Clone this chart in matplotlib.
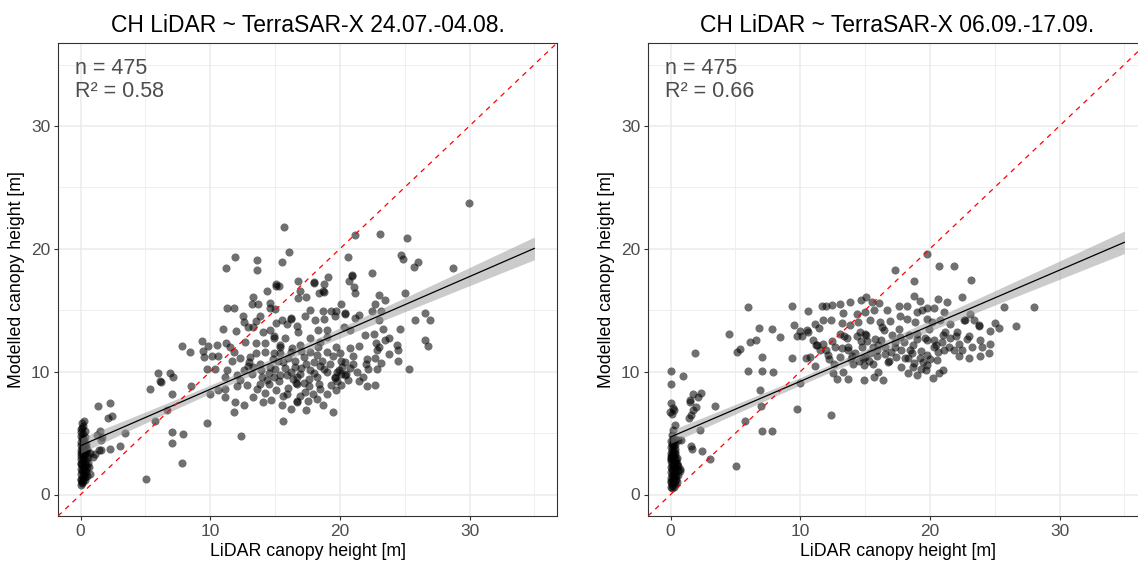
import numpy as np
import matplotlib
matplotlib.use("Agg")
import matplotlib.pyplot as plt

plt.rcParams['font.family'] = ['Liberation Sans', 'DejaVu Sans']

# ---------------- data (LiDAR height, modelled height) ----------------
titles = ["CH LiDAR ~ TerraSAR-X 24.07.-04.08.", "CH LiDAR ~ TerraSAR-X 06.09.-17.09."]
n_labels = ["n = 475", "n = 475"]
r2_labels = ["R\u00b2 = 0.58", "R\u00b2 = 0.66"]
x_label = "LiDAR canopy height [m]"
y_label = "Modelled canopy height [m]"
tick_values = [0, 10, 20, 30]

left_cluster = [
    (0.0, 0.8), (0.1, 1.0), (0.2, 1.1), (0.05, 1.3), (0.3, 1.4), (0.15, 1.5), (0.0, 1.7), (0.25, 1.75),
    (0.4, 1.8), (0.7, 1.7), (0.1, 1.9), (0.3, 2.0), (0.0, 2.1), (0.2, 2.2), (0.45, 2.25), (0.1, 2.4),
    (0.3, 2.5), (0.0, 2.6), (0.2, 2.7), (0.4, 2.8), (0.05, 2.9), (0.25, 3.0), (0.6, 3.05), (0.0, 3.15),
    (0.15, 3.2), (0.35, 3.3), (0.1, 3.4), (0.3, 3.5), (0.0, 3.6), (0.2, 3.65), (0.45, 3.7), (0.1, 3.8),
    (0.3, 3.9), (0.0, 4.0), (0.2, 4.1), (0.4, 4.15), (0.05, 4.3), (0.25, 4.4), (0.1, 4.6), (0.3, 4.7),
    (0.0, 4.8), (0.2, 4.9), (0.05, 5.1), (0.3, 5.2), (0.1, 5.4), (0.2, 5.6), (0.1, 5.8), (0.25, 5.95),
    (0.0, 1.2), (0.35, 1.2), (0.15, 2.0), (0.05, 2.45), (0.35, 2.35), (0.15, 3.0), (0.25, 3.6),
    (0.05, 3.35), (0.5, 3.45), (0.15, 4.5), (0.35, 4.0), (0.0, 5.3), (0.55, 2.6), (0.65, 2.2),
    (0.5, 1.5), (0.2, 1.35), (0.1, 0.95),
]
left_sparse = [
    (1.31, 7.2), (2.28, 7.41), (2.44, 6.38), (2.13, 6.19), (1.49, 5.18), (1.28, 4.83), (1.64, 4.7),
    (1.54, 4.42), (3.41, 5.02), (3.03, 3.94), (2.26, 3.69), (1.56, 3.64), (1.41, 3.66), (1.07, 3.28),
    (0.72, 3.34), (0.97, 3.07), (5.73, 6.0), (6.63, 6.87), (7.01, 5.1), (7.06, 4.23), (7.91, 4.91),
    (7.84, 2.6), (5.03, 1.25), (9.71, 5.78), (5.34, 8.6), (6.16, 9.17), (7.06, 8.14), (8.55, 8.85),
    (7.83, 12.1), (8.4, 11.6), (9.35, 12.5), (9.8, 12.1), (9.4, 11.7), (9.5, 11.2), (6.0, 9.9),
    (6.86, 9.9), (6.1, 9.2), (7.1, 9.6), (9.76, 10.2),
]
left_cloud = [
    (15.7, 21.8), (23.1, 21.2), (21.2, 21.1), (25.2, 20.9), (16.1, 19.7), (11.9, 19.3), (24.7, 19.5),
    (24.9, 19.2), (13.6, 19.1), (15.5, 18.9), (20.6, 19.3), (26.0, 18.9), (11.2, 18.4), (13.6, 18.3),
    (25.7, 18.5), (22.5, 18.0), (20.9, 17.9), (20.7, 17.4), (16.8, 17.4), (18.0, 17.3), (19.1, 17.7),
    (18.8, 17.1), (15.1, 17.0), (15.3, 17.0), (21.1, 16.85), (16.9, 16.6), (14.4, 16.6), (18.4, 16.4),
    (18.7, 16.6), (21.2, 16.4), (25.0, 16.4), (13.3, 16.1), (16.8, 16.0), (17.4, 16.1), (23.0, 16.2),
    (13.2, 15.5), (13.7, 15.5), (14.6, 15.6), (20.1, 15.5), (22.7, 15.5), (23.5, 15.8), (11.3, 15.2),
    (11.8, 15.2), (14.6, 15.2), (15.0, 15.1), (17.7, 15.05), (18.7, 14.9), (19.3, 14.95), (19.7, 14.9),
    (20.4, 14.7), (22.5, 14.9), (23.2, 14.95), (12.5, 14.5), (16.2, 14.3), (17.3, 14.5), (18.1, 14.2),
    (18.8, 14.3), (19.6, 14.5), (21.5, 14.6), (21.2, 14.4), (23.0, 14.2), (12.6, 14.05), (12.9, 13.65),
    (13.5, 14.1), (13.8, 14.5), (13.3, 13.65), (15.1, 13.95), (15.5, 14.2), (15.9, 13.9), (11.0, 13.5),
    (12.0, 13.3), (14.6, 13.4), (14.1, 13.2), (16.7, 13.7), (16.8, 13.2), (18.3, 13.4), (19.0, 13.4),
    (20.3, 13.6), (20.8, 13.4), (23.3, 13.5), (24.6, 13.5), (25.8, 14.2), (21.9, 13.0), (22.6, 13.1),
    (14.9, 12.7), (15.8, 12.7), (17.7, 12.7), (19.0, 12.8), (18.5, 12.4), (23.5, 12.6), (23.8, 12.7),
    (11.2, 12.3), (11.5, 12.0), (10.5, 12.2), (12.7, 12.4), (13.5, 12.3), (14.2, 12.3), (15.4, 12.0),
    (16.3, 11.9), (16.9, 12.2), (19.7, 12.0), (20.8, 11.9), (21.5, 12.1), (22.8, 12.3), (24.4, 12.2),
    (22.9, 11.8), (10.1, 11.3), (10.6, 11.3), (11.8, 11.6), (13.5, 11.5), (14.2, 11.6), (14.9, 11.5),
    (15.4, 11.5), (16.2, 11.6), (17.2, 11.2), (17.7, 11.6), (18.2, 11.35), (19.0, 11.6), (19.5, 11.3),
    (20.1, 10.9), (20.4, 10.8), (22.1, 11.0), (22.7, 11.15), (24.5, 10.9), (11.7, 10.9), (12.3, 11.1),
    (13.1, 11.2), (13.8, 10.65), (14.6, 10.4), (15.6, 10.8), (16.5, 10.4), (17.4, 10.65), (18.5, 10.5),
    (10.4, 10.25), (11.3, 10.1), (12.6, 10.1), (13.3, 10.4), (16.2, 10.0), (16.9, 9.8), (17.7, 10.1),
    (18.8, 10.25), (19.9, 10.1), (20.5, 9.8), (21.3, 10.0), (22.2, 10.25), (22.9, 10.25), (25.3, 10.25),
    (11.15, 9.6), (12.05, 9.7), (13.2, 9.8), (14.0, 9.6), (14.9, 9.6), (15.4, 9.7), (15.9, 9.7),
    (16.7, 9.6), (18.2, 9.6), (19.6, 9.6), (20.1, 9.8), (21.5, 9.2), (22.1, 8.8), (22.7, 8.9),
    (10.0, 8.2), (10.6, 8.5), (11.15, 8.6), (12.05, 8.8), (12.8, 8.9), (13.8, 9.0), (14.5, 9.0),
    (15.1, 8.5), (15.9, 8.2), (16.7, 9.0), (17.3, 8.35), (17.9, 8.2), (19.0, 8.2), (19.7, 8.5),
    (20.1, 8.9), (11.15, 7.9), (11.9, 7.5), (12.6, 7.3), (13.3, 7.9), (14.1, 7.5), (14.7, 7.7),
    (15.5, 7.3), (16.2, 7.0), (16.7, 7.5), (17.4, 6.85), (18.2, 7.8), (18.7, 7.3), (19.5, 6.7),
    (11.8, 6.7), (15.6, 6.0), (12.4, 4.8),
    (29.96, 23.7), (28.7, 18.4), (26.55, 14.8), (26.95, 14.2), (26.6, 12.6), (26.8, 12.1), (24.5, 11.8),
    (14.9, 12.9), (15.4, 12.2), (16.6, 9.1), (16.7, 7.6), (19.6, 9.5), (19.8, 10.0), (20.4, 9.7),
    (18.0, 17.2), (18.8, 16.5), (20.9, 17.8), (20.4, 14.8), (23.0, 12.0), (16.2, 14.4), (15.1, 17.1),
]
left_core = [
    (13.0, 10.8), (13.9, 10.1), (14.4, 9.3), (15.0, 10.2), (15.3, 9.2), (15.8, 10.3), (16.0, 8.7),
    (16.4, 9.4), (17.0, 10.3), (17.2, 9.1), (17.6, 8.8), (18.0, 9.9), (18.4, 9.0), (18.6, 10.9),
    (19.2, 10.6), (19.3, 8.9), (19.8, 9.2), (20.2, 10.4), (20.6, 9.3), (21.0, 10.6), (21.8, 9.6),
    (14.2, 8.3), (15.6, 8.0), (16.9, 8.0), (17.5, 7.6), (18.5, 8.6), (13.6, 8.6), (12.3, 9.3),
    (12.9, 10.5), (14.8, 11.0), (16.0, 11.1), (17.0, 11.7), (18.0, 10.8), (19.0, 10.0), (20.0, 11.5),
    (21.0, 11.3), (22.0, 10.6), (23.2, 10.7), (23.8, 11.4), (15.2, 10.9), (16.5, 10.9), (18.3, 12.0),
    (17.6, 9.4), (14.5, 9.9), (20.8, 10.3),
]

right_cluster = [
    (0.0, 0.6), (0.1, 0.75), (0.2, 0.9), (0.05, 1.0), (0.3, 1.1), (0.15, 1.2), (0.0, 1.35), (0.25, 1.4),
    (0.4, 1.5), (0.1, 1.55), (0.6, 1.6), (0.7, 1.9), (0.75, 2.1), (0.55, 2.0), (0.3, 1.7), (0.0, 1.8),
    (0.15, 1.9), (0.35, 2.05), (0.05, 2.2), (0.25, 2.3), (0.45, 2.4), (0.6, 2.3), (0.1, 2.5), (0.3, 2.6),
    (0.0, 2.7), (0.2, 2.8), (0.4, 2.9), (0.05, 3.0), (0.25, 3.1), (0.1, 3.25), (0.35, 3.3), (0.0, 3.4),
    (0.2, 3.5), (0.1, 3.65), (0.3, 3.7), (0.0, 3.85), (0.2, 3.95), (0.1, 4.1), (0.25, 4.2), (0.05, 4.35),
    (0.15, 4.45), (0.3, 4.55), (0.0, 1.1), (0.2, 1.6), (0.4, 1.25), (0.1, 2.05), (0.5, 2.6), (0.15, 2.35),
    (0.3, 3.5), (0.05, 2.85), (0.35, 2.7), (0.2, 3.2), (0.0, 3.1), (0.45, 3.0), (0.1, 0.5), (0.25, 0.65),
    (0.35, 0.85), (0.5, 1.0), (0.15, 4.0), (0.3, 4.05),
]
right_sparse = [
    (0.06, 7.46), (0.18, 7.08), (0.26, 6.87), (-0.02, 6.73), (0.08, 6.54), (1.47, 7.54), (1.99, 7.14),
    (1.73, 6.87), (1.58, 6.46), (1.42, 6.19), (3.41, 7.19), (2.25, 5.24), (0.31, 5.64), (0.18, 5.24),
    (0.13, 4.83), (0.83, 4.42), (1.55, 3.93), (1.68, 3.74), (2.43, 3.55), (3.02, 2.85), (5.02, 2.31),
    (0.56, 4.42), (5.95, 15.25), (4.51, 13.1), (5.08, 11.61), (5.33, 11.88), (6.11, 12.42),
    (6.62, 12.56), (6.85, 13.56), (8.43, 12.78), (7.83, 13.46), (7.06, 11.18), (5.98, 10.06),
    (7.06, 10.06), (7.86, 9.96), (1.85, 11.48), (0.0, 10.06), (0.02, 8.98), (0.98, 9.66), (1.72, 8.16),
    (2.37, 8.27), (2.11, 7.95), (1.52, 7.67), (6.88, 8.49), (7.0, 7.2), (5.72, 5.97), (7.06, 5.15),
    (7.83, 5.15), (9.72, 7.0), (12.4, 6.45), (9.97, 9.11),
]
right_cloud = [
    (19.8, 19.6), (20.7, 18.6), (21.85, 18.6), (17.27, 18.26), (18.74, 17.4), (23.15, 17.5),
    (18.74, 16.14), (20.65, 15.9), (21.35, 15.63), (19.23, 15.76), (22.5, 16.06), (15.05, 16.09),
    (14.67, 15.82), (15.5, 15.68), (16.1, 15.55), (13.84, 15.68), (11.67, 15.36), (11.98, 15.36),
    (12.47, 15.41), (13.1, 15.47), (9.38, 15.36), (10.6, 14.9), (13.3, 14.8), (14.36, 14.73),
    (15.0, 14.87), (15.65, 15.0), (16.68, 15.0), (17.6, 15.36), (18.2, 15.38), (19.0, 14.87),
    (19.4, 15.0), (19.8, 15.14), (20.3, 15.22), (21.08, 14.87), (25.7, 15.27), (26.68, 13.7),
    (9.54, 13.78), (9.97, 13.32), (10.49, 13.37), (11.1, 13.86), (11.78, 14.19), (12.37, 14.19),
    (11.44, 13.59), (13.2, 13.97), (13.84, 13.78), (14.48, 14.05), (15.39, 14.19), (16.16, 14.05),
    (16.93, 14.13), (17.7, 14.51), (18.27, 14.32), (18.87, 14.05), (19.77, 14.32), (20.16, 14.05),
    (20.8, 14.19), (21.57, 13.86), (22.09, 13.24), (22.6, 14.19), (23.12, 14.73), (23.38, 14.19),
    (23.77, 13.7), (24.67, 13.29), (25.0, 13.97), (25.31, 13.56), (9.72, 12.89), (10.1, 12.89),
    (10.62, 13.24), (11.0, 12.56), (11.21, 12.15), (11.78, 12.29), (12.42, 12.51), (13.07, 13.1),
    (13.58, 12.7), (14.36, 12.89), (15.0, 13.1), (15.13, 12.51), (15.77, 12.62), (16.42, 13.37),
    (17.06, 12.97), (17.7, 12.83), (18.35, 12.97), (18.99, 12.62), (19.64, 12.7), (20.28, 12.56),
    (20.93, 12.43), (21.57, 12.7), (22.22, 12.29), (22.86, 12.62), (23.25, 12.02), (23.9, 12.56),
    (24.62, 12.29), (9.33, 11.15), (10.44, 11.07), (11.13, 10.44), (10.75, 11.2), (11.52, 11.75),
    (12.16, 11.34), (12.68, 12.02), (13.07, 11.2), (13.71, 11.75), (14.23, 11.48), (14.74, 12.02),
    (14.87, 11.07), (15.39, 11.48), (15.95, 11.75), (16.55, 12.02), (16.83, 10.88), (17.4, 11.2),
    (18.1, 11.07), (18.61, 11.48), (19.2, 11.07), (19.77, 11.34), (20.54, 10.93), (21.06, 11.75),
    (21.83, 11.75), (22.27, 11.26), (22.99, 11.15), (23.87, 11.29), (24.59, 11.53), (12.5, 9.85),
    (12.81, 9.44), (13.32, 9.98), (13.71, 9.44), (14.1, 10.66), (14.92, 10.52), (14.92, 9.3),
    (15.7, 9.58), (16.03, 9.98), (18.3, 9.9), (18.66, 10.34), (19.33, 10.25), (19.77, 10.52),
    (19.72, 10.12), (20.21, 9.52), (20.7, 9.85), (20.98, 10.17), (28.02, 15.28),
    (11.3, 12.2), (13.7, 12.0), (14.6, 13.2), (15.1, 13.0), (14.7, 12.5), (15.0, 11.2), (16.8, 10.8),
    (19.0, 13.1), (19.8, 12.6), (20.3, 12.0), (22.7, 14.2), (23.8, 13.8), (13.4, 12.9), (16.0, 12.2),
    (17.3, 12.0), (18.0, 12.4), (18.5, 11.8), (19.3, 11.7), (20.6, 11.6), (21.2, 13.2), (16.3, 13.6),
    (17.6, 13.5), (12.0, 11.8), (12.6, 10.6), (13.9, 11.0), (15.6, 10.6), (17.8, 10.4), (16.4, 9.3),
    (19.0, 9.7),
]
right_core = [
    (14.0, 11.3), (14.5, 10.9), (15.3, 10.9), (15.9, 11.3), (16.5, 11.4), (17.0, 11.6), (17.8, 11.8),
    (18.3, 11.1), (18.8, 10.7), (19.5, 10.8), (20.0, 11.0), (20.5, 12.2), (21.5, 12.0), (22.5, 11.8),
    (23.0, 12.9), (24.0, 12.0), (16.2, 12.6), (17.3, 12.4), (18.7, 12.2), (21.0, 13.0), (13.2, 11.9),
    (12.2, 11.0), (15.6, 12.0), (19.9, 13.5), (22.0, 12.9),
]

panels = [left_cluster + left_sparse + left_cloud + left_core,
          right_cluster + right_sparse + right_cloud + right_core]

# ---------------- figure ----------------
W, H = 1138, 563
fig = plt.figure(figsize=(W / 100, H / 100), dpi=100)
ax_w, ax_h = 499 / W, 473 / H
bottom = (H - 516) / H
lefts = [58 / W, 648 / W]

lim = (-1.75, 36.75)
fit_range = (0, 35)
tc = '#4D4D4D'

for i, pts in enumerate(panels):
    ax = fig.add_axes([lefts[i], bottom, ax_w, ax_h])
    arr = np.array(pts, dtype=float)
    x, y = arr[:, 0], arr[:, 1]

    ax.scatter(x, y, s=34, c='black', alpha=0.56, linewidths=0, zorder=3)

    # linear fit with 95% confidence band
    b, a = np.polyfit(x, y, 1)
    n = len(x)
    resid = y - (a + b * x)
    s = np.sqrt(np.sum(resid ** 2) / (n - 2))
    xbar = x.mean()
    sxx = np.sum((x - xbar) ** 2)
    xs = np.linspace(fit_range[0], fit_range[1], 200)
    yh = a + b * xs
    se = s * np.sqrt(1 / n + (xs - xbar) ** 2 / sxx)
    ax.fill_between(xs, yh - 1.97 * se, yh + 1.97 * se, color='#999999', alpha=0.5, lw=0, zorder=4)
    ax.plot(xs, yh, color='black', lw=0.9, zorder=5)

    ax.axline((0, 0), slope=1, color='red', lw=0.9, ls=(0, (4, 4)), zorder=6)

    ax.set_xlim(lim)
    ax.set_ylim(lim)
    ax.set_xticks(tick_values)
    ax.set_yticks(tick_values)
    ax.set_xticks([5, 15, 25, 35], minor=True)
    ax.set_yticks([5, 15, 25, 35], minor=True)
    ax.grid(which='major', color='#EBEBEB', lw=1.1, zorder=0)
    ax.grid(which='minor', color='#EBEBEB', lw=0.55, zorder=0)
    ax.set_axisbelow(True)
    ax.tick_params(which='major', length=3, width=0.8, color='#333333', labelsize=12.5,
                   labelcolor=tc, pad=2.5)
    ax.tick_params(which='minor', length=0)
    for sp in ax.spines.values():
        sp.set_color('#333333')
        sp.set_linewidth(0.8)

    ax.set_title(titles[i], fontsize=16.5, pad=8, color='black')
    ax.set_xlabel(x_label, fontsize=12.8, labelpad=3)
    ax.set_ylabel(y_label, fontsize=12.8, labelpad=4)

    ax.text(0.034, 0.9345, n_labels[i], transform=ax.transAxes, fontsize=15.5, color=tc,
            va='baseline', ha='left')
    ax.text(0.034, 0.8858, r2_labels[i], transform=ax.transAxes, fontsize=15.5, color=tc,
            va='baseline', ha='left')

fig.savefig('out.png', dpi=100)
